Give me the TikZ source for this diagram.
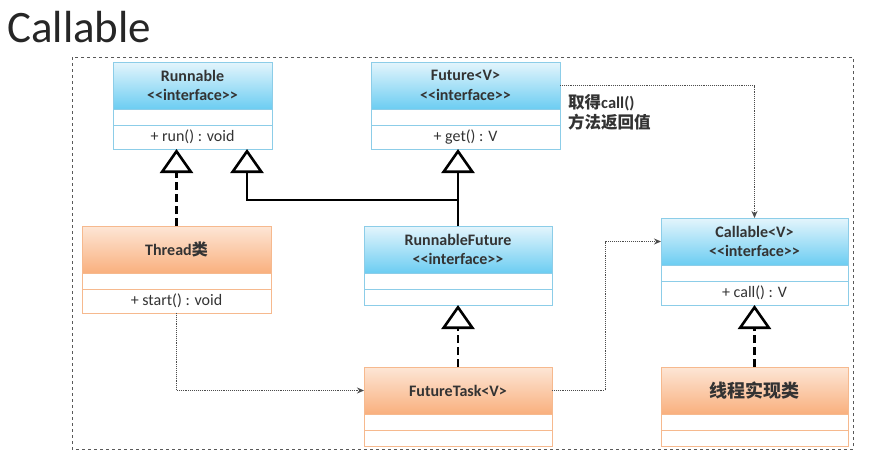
\documentclass[tikz,border=0pt]{standalone}
\usepackage{fontspec}
\setmainfont{Carlito}
\newfontfamily\cjk{Noto Sans CJK SC}
\usepackage{tikz}
\usetikzlibrary{positioning, arrows.meta, calc}

\definecolor{ifaceline}{HTML}{8CCDE8}
\definecolor{ifacetop}{HTML}{E4F5FC}
\definecolor{ifacebot}{HTML}{6CCDF2}
\definecolor{implline}{HTML}{F6B98E}
\definecolor{impltop}{HTML}{FDE6D6}
\definecolor{implbot}{HTML}{F9B07E}
\definecolor{txt}{HTML}{333333}

\tikzset{
  iface/.style={rectangle, draw=ifaceline, top color=ifacetop, bottom color=ifacebot,
    minimum height=47pt, outer sep=0pt, inner sep=0pt, align=center, text=txt,
    font=\bfseries\fontsize{16}{19.5}\selectfont},
  impl/.style={iface, draw=implline, top color=impltop, bottom color=implbot},
  row/.style={rectangle, draw=#1, fill=white, minimum height=16pt, outer sep=0pt,
    inner sep=0pt, text=txt, font=\fontsize{16}{16}\selectfont},
  gen/.style={line width=2.6pt, -{Triangle[open, length=24pt, width=33pt, line width=2.6pt]}},
  real/.style={gen, dash pattern=on 8pt off 4pt},
  dep/.style={densely dotted, line width=0.9pt, draw=black!70, -{Stealth[length=7pt, width=6pt]}}
}

% name, header centre, width, style, title, border colour, last row height, method
\newcommand{\umlclass}[8]{%
  \node[#4, minimum width=#3] (#1) at #2 {#5};
  \node[row=#6, minimum width=#3, below=0pt of #1] (#1-a) {};
  \node[row=#6, minimum width=#3, minimum height=#7, below=0pt of #1-a] (#1-b) {#8};
}

\begin{document}
\begin{tikzpicture}[x=1pt, y=1pt]
  \useasboundingbox (0,0) rectangle (871,-464);

  % title
  \node[anchor=base west, inner sep=0pt, font=\fontsize{45}{45}\selectfont, text=black!85] (title) at (7,-42) {Callable};

  % frame
  \draw[gray!70!black, line width=0.8pt, dash pattern=on 3pt off 3pt] (72,-57) rectangle (853,-449);

  % classes
  \umlclass{runnable}{(192.5,-85.5)}{159pt}{iface}{Runnable\\<{}<interface>{}>}{ifaceline}{24pt}{+ run() : void}
  \umlclass{future}{(465.5,-85.5)}{189pt}{iface}{Future<V>\\<{}<interface>{}>}{ifaceline}{24pt}{+ get() : V}
  \umlclass{thread}{(176.5,-249.5)}{189pt}{impl}{Thread{\cjk 类}}{implline}{24pt}{+ start() : void}
  \umlclass{rfuture}{(458,-249.5)}{188pt}{iface}{RunnableFuture\\<{}<interface>{}>}{ifaceline}{16pt}{}
  \umlclass{callable}{(754.5,-241.5)}{187pt}{iface}{Callable<V>\\<{}<interface>{}>}{ifaceline}{24pt}{+ call() : V}
  \umlclass{ftask}{(458,-390.5)}{188pt}{impl}{FutureTask<V>}{implline}{16pt}{}
  \umlclass{worker}{(754.5,-390.5)}{187pt}{impl}{\cjk\fontsize{18}{18}\selectfont 线程实现类}{implline}{16pt}{}

  % note
  \node[anchor=north west, inner sep=0pt, align=left, text=txt,
    font=\bfseries\fontsize{16.5}{20}\selectfont] (note) at (568,-94) {{\cjk 取得}call()\\{\cjk 方法返回值}};

  % inheritance
  \coordinate (rbend) at ($(runnable-b.south)+(54.5,0)$);
  \draw[real] (thread.north) -- (thread.north |- runnable-b.south);
  \draw[gen] (rfuture.north) -- (rfuture.north |- future-b.south);
  \draw[gen] (rfuture.north) -- ++(0,26) -| (rbend);
  \draw[real] (ftask.north) -- (rfuture-b.south);
  \draw[real] (worker.north) -- (callable-b.south);

  % dependencies
  \draw[dep] (future.east) -| (callable.north);
  \draw[dep] (thread-b.south) |- (ftask.west);
  \draw[dep] (ftask.east) -- ++(53,0) |- (callable.west);
\end{tikzpicture}
\end{document}
